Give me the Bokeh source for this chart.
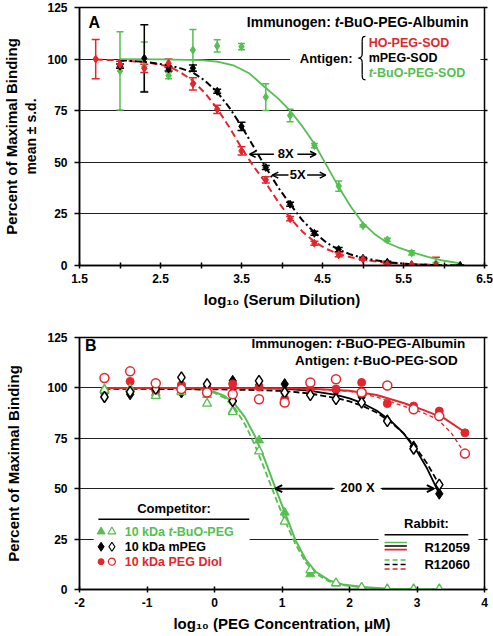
from bokeh.plotting import figure
from bokeh.models import (FixedTicker, LinearAxis, Title, Whisker, TeeHead, Arrow,
                          OpenHead, ColumnDataSource, CustomJSTickFormatter)
from bokeh.layouts import column
from bokeh.core.properties import value
from bokeh.embed import file_html
from bokeh.resources import INLINE

FONT = "Liberation Sans"
RED = "#e3262d"
GREEN = "#55bf50"
BLACK = "#000000"
GRID = "#202020"

# ---------------- Panel A data ----------------
a_x = [1.70, 2.00, 2.30, 2.60, 2.90, 3.20, 3.50, 3.80, 4.10, 4.40, 4.70, 5.00, 5.30, 5.60, 5.90, 6.20]
ho_x = a_x[:15]
ho_mean = [100.0, 97.5, 95.5, 98.0, 88.0, 75.7, 55.5, 41.5, 22.7, 10.8, 5.2, 3.0, 0.5, 0.5, 0.0]
ho_sd = [9.5, 1.5, 2.0, 2.0, 3.0, 2.0, 2.0, 1.5, 1.0, 1.0, 1.0, 0.5, 0.3, 0.3, 4.0]
mp_x = a_x[1:]
mp_mean = [96.6, 100.4, 95.2, 95.6, 84.4, 67.4, 47.5, 29.7, 15.6, 7.7, 3.5, 1.6, 0.3, 0.1, 0.0]
mp_sd = [1.0, 16.3, 1.0, 1.5, 1.0, 2.0, 1.0, 1.0, 1.0, 1.0, 0.5, 0.5, 0.3, 0.3, 0.3]
tb_x = a_x[1:]
tb_mean = [94.3, 96.3, 92.0, 104.4, 106.4, 106.0, 81.6, 72.7, 58.1, 38.5, 19.3, 12.4, 6.1, 1.0, 0.0]
tb_sd = [19.0, 12.0, 1.5, 10.0, 3.0, 1.5, 6.5, 3.0, 1.0, 2.5, 0.5, 0.8, 1.0, 0.5, 0.3]

ho_fit_x = [1.70, 2.00, 2.30, 2.60, 2.75, 2.90, 3.05, 3.20, 3.35, 3.50, 3.65, 3.80, 3.95, 4.10,
            4.25, 4.40, 4.55, 4.70, 4.85, 5.00, 5.30, 5.60, 5.90]
ho_fit_y = [99.8, 99.4, 98.6, 96.5, 93.5, 89.5, 83.5, 76.0, 67.0, 57.0, 48.0, 40.0, 31.0, 23.0,
            16.5, 11.5, 8.0, 5.5, 4.0, 2.8, 1.3, 0.6, 0.3]
mp_fit_x = [2.00, 2.30, 2.60, 2.75, 2.90, 3.05, 3.20, 3.35, 3.50, 3.65, 3.80, 3.95, 4.10, 4.25,
            4.40, 4.55, 4.70, 4.85, 5.00, 5.30, 5.60, 5.90, 6.20]
mp_fit_y = [99.5, 98.7, 97.0, 95.5, 93.5, 89.5, 84.0, 76.5, 67.5, 57.5, 47.5, 38.0, 29.7, 22.0,
            16.0, 11.0, 7.7, 5.3, 3.6, 1.6, 0.6, 0.2, 0.0]
tb_fit_x = [2.00, 2.50, 3.00, 3.20, 3.40, 3.60, 3.80, 3.95, 4.10, 4.25, 4.40, 4.55, 4.70, 4.85,
            5.00, 5.15, 5.30, 5.45, 5.60, 5.80, 6.00, 6.20]
tb_fit_y = [100.0, 99.9, 99.5, 98.8, 97.0, 93.0, 86.0, 81.0, 75.0, 67.5, 59.0, 48.5, 38.0, 28.5,
            20.5, 15.0, 11.0, 8.5, 6.5, 4.2, 2.3, 1.0]

# ---------------- Panel B data ----------------
b_x = [-1.63, -1.25, -0.87, -0.49, -0.11, 0.27, 0.66, 1.04, 1.42, 1.80, 2.18, 2.56, 2.95, 3.33, 3.71]
tbu_r1 = [99.5, 99.5, 97.5, 98.5, 96.5, 88.7, 74.0, 38.2, 7.6, 3.0, 1.0, 0.0, 0.0, 0.0]
tbu_r2 = [99.0, 99.4, 96.1, 98.0, 92.2, 88.0, 68.6, 33.7, 9.6, 3.2, 1.0, 0.2, 0.2, 0.2]
mpeg_r1 = [97.3, 96.8, 98.6, 97.7, 100.5, 103.5, 101.5, 101.9, 100.0, 98.5, 95.5, 84.0, 71.0, 47.5]
mpeg_r2 = [95.5, 98.0, 99.5, 105.2, 101.9, 93.5, 103.5, 97.7, 96.4, 94.4, 92.7, 83.5, 69.8, 52.0]
diol_r1 = [98.0, 103.2, 98.6, 101.4, 99.5, 101.9, 100.5, 94.5, 99.4, 99.4, 102.7, 92.2, 91.0, 88.5, 77.7]
diol_r2 = [104.9, 108.2, 102.3, 99.4, 97.7, 96.9, 94.4, 92.7, 102.7, 104.3, 97.7, 101.2, 89.4, 86.0, 67.4]

tbu_fit_x = [-1.63, -1.00, -0.50, -0.20, 0.00, 0.15, 0.30, 0.45, 0.60, 0.75, 0.90, 1.05, 1.20,
             1.35, 1.50, 1.70, 1.90, 2.20, 2.60, 3.00, 3.33]
tbu_fit1_y = [100.0, 100.0, 99.8, 99.2, 98.0, 96.0, 92.0, 85.5, 76.0, 64.0, 50.5, 37.5, 24.5,
              15.0, 8.8, 4.5, 2.5, 1.2, 0.3, 0.1, 0.0]
tbu_fit2_y = [100.0, 100.0, 99.7, 99.0, 97.5, 95.0, 90.0, 82.0, 71.5, 59.0, 46.0, 33.5, 22.5,
              13.5, 7.8, 4.0, 2.2, 1.0, 0.3, 0.1, 0.0]
mpeg_fit_x = [-1.63, -1.00, 0.00, 0.50, 1.00, 1.40, 1.80, 2.00, 2.20, 2.40, 2.60, 2.80, 3.00, 3.15, 3.33]
mpeg_fit1_y = [100.0, 100.0, 100.0, 99.9, 99.6, 98.7, 96.5, 94.8, 92.3, 88.8, 84.0, 77.5, 68.5, 60.0, 47.5]
mpeg_fit2_y = [99.5, 99.5, 99.3, 99.0, 98.5, 97.3, 95.0, 93.3, 91.0, 87.8, 83.3, 77.5, 69.5, 62.5, 52.0]
diol_fit1_x = [-1.63, -1.00, 0.00, 1.00, 1.50, 2.00, 2.40, 2.80, 3.10, 3.40, 3.71]
diol_fit1_y = [100.0, 100.0, 100.0, 99.8, 99.5, 98.6, 96.5, 92.5, 89.0, 85.0, 78.0]
diol_fit2_x = [-1.63, -1.00, 0.00, 1.00, 1.50, 2.00, 2.40, 2.80, 3.10, 3.30, 3.50, 3.71]
diol_fit2_y = [100.0, 100.0, 100.0, 99.7, 99.4, 98.3, 95.5, 91.0, 87.5, 84.5, 78.0, 67.5]

Y_TICKS = [0, 25, 50, 75, 100, 125]
A_XTICKS = [1.5, 2.5, 3.5, 4.5, 5.5, 6.5]
A_XMINOR = [2.0, 3.0, 4.0, 5.0, 6.0]
B_XTICKS = [-2, -1, 0, 1, 2, 3, 4]

# Arial/Liberation Sans Bold advance widths (per 1000 em)
W = {'I': 278, 'm': 889, 'u': 611, 'n': 611, 'o': 611, 'g': 611, 'e': 556, ':': 333, ' ': 278,
     't': 333, '-': 333, 'B': 722, 'O': 778, 'P': 667, 'E': 667, 'G': 778, 'A': 722, 'l': 278,
     'b': 611, 'i': 278, 'S': 667, 'D': 722, '0': 556, '1': 556, 'k': 556, 'a': 556, 'H': 722,
     'M': 833, 'd': 611, 'C': 722, 'p': 611, 'r': 389}


def tw(s, size):
    return sum(W.get(c, 556) for c in s) * size / 1000.0


def rich(p, x, y, parts, size, anchor="left"):
    total = sum(tw(t, size) for t, _, _ in parts)
    off = -total if anchor == "right" else 0.0
    for t, color, style in parts:
        p.text(x=[x], y=[y], text=[t], x_offset=off, text_font=value(FONT),
               text_font_style=style, text_font_size=f"{size}px", text_color=color,
               text_baseline="middle", text_align="left")
        off += tw(t, size)


def label(p, x, y, t, size, color=BLACK, align="left", style="bold"):
    p.text(x=[x], y=[y], text=[t], text_font=value(FONT), text_font_style=style,
           text_font_size=f"{size}px", text_color=color, text_baseline="middle",
           text_align=align)


def make_fig(x_range, height, mbt, mbb, xticks, xminor, xlabel):
    p = figure(width=493, height=height, x_range=x_range, y_range=(0, 125),
               output_backend="svg", toolbar_location=None,
               min_border_left=72, min_border_right=9, min_border_top=mbt,
               min_border_bottom=mbb)
    p.outline_line_color = "black"
    p.outline_line_width = 1.5
    p.xgrid.visible = False
    p.ygrid.ticker = FixedTicker(ticks=[25, 50, 75, 100])
    p.ygrid.grid_line_color = GRID
    p.ygrid.grid_line_width = 1.2
    p.xaxis.ticker = FixedTicker(ticks=xticks, minor_ticks=xminor)
    p.xaxis.formatter = CustomJSTickFormatter(code="return String(tick)")
    p.yaxis.ticker = FixedTicker(ticks=Y_TICKS)
    for ax in (p.xaxis[0], p.yaxis[0]):
        ax.axis_line_width = 1.5
        ax.axis_line_color = "black"
        ax.major_tick_line_color = "black"
        ax.major_tick_line_width = 1.5
        ax.major_label_text_font = FONT
        ax.major_label_text_font_style = "bold"
        ax.major_label_text_font_size = "12px"
        ax.major_label_text_color = "black"
        ax.axis_label_text_font = FONT
        ax.axis_label_text_font_style = "bold"
        ax.axis_label_text_color = "black"
    xa = p.xaxis[0]
    xa.major_tick_in = 3
    xa.major_tick_out = 3
    xa.minor_tick_in = 3
    xa.minor_tick_out = 3
    xa.minor_tick_line_width = 1.5
    xa.minor_tick_line_color = "black"
    xa.major_label_standoff = 5
    xa.axis_label = xlabel
    xa.axis_label_text_font_size = "15px"
    xa.axis_label_standoff = 5
    ya = p.yaxis[0]
    ya.major_tick_in = 0
    ya.major_tick_out = 5
    ya.major_label_standoff = 7
    ya.axis_label_text_font_size = "14px"
    ra = LinearAxis(ticker=FixedTicker(ticks=Y_TICKS),
                    formatter=CustomJSTickFormatter(code="return ''"),
                    major_tick_in=0, major_tick_out=3, major_tick_line_width=1.5,
                    axis_line_color=None, major_label_standoff=0,
                    minor_tick_line_color=None)
    p.add_layout(ra, "right")
    return p


# ================= Panel A =================
pA = make_fig((1.5, 6.5), 320, 7, 55, A_XTICKS, A_XMINOR, "log\u2081\u2080 (Serum Dilution)")
pA.yaxis[0].axis_label = "mean \u00b1 s.d."
pA.yaxis[0].axis_label_standoff = 5
pA.add_layout(Title(text="Percent of Maximal Binding", align="center", text_font=FONT,
                    text_font_size="15px", text_font_style="bold", text_color=BLACK,
                    standoff=1), "left")

# white box behind the antigen legend
pA.quad(left=[4.10], right=[6.45], bottom=[89], top=[112], fill_color="white", line_color=None)

pA.line(ho_fit_x, ho_fit_y, line_color=RED, line_width=2, line_dash="7 4")
pA.line(mp_fit_x, mp_fit_y, line_color=BLACK, line_width=2, line_dash="7 3 2 3")
pA.line(tb_fit_x, tb_fit_y, line_color=GREEN, line_width=1.8)

for xs, m, sd, col, cap in ((tb_x, tb_mean, tb_sd, GREEN, 7), (mp_x, mp_mean, mp_sd, BLACK, 8),
                            (ho_x, ho_mean, ho_sd, RED, 8)):
    src = ColumnDataSource(dict(base=xs, upper=[a + b for a, b in zip(m, sd)],
                                lower=[a - b for a, b in zip(m, sd)]))
    pA.add_layout(Whisker(source=src, base="base", upper="upper", lower="lower",
                          line_color=col, line_width=1.5,
                          upper_head=TeeHead(size=cap, line_color=col, line_width=1.5),
                          lower_head=TeeHead(size=cap, line_color=col, line_width=1.5)))
    pA.scatter(xs, m, marker="diamond", size=8, fill_color=col, line_color=col)

label(pA, 1.61, 117.5, "A", 16)
rich(pA, 6.35, 117.8, [("Immunogen: ", BLACK, "bold"), ("t", BLACK, "bold italic"),
                       (" -BuO-PEG-Albumin", BLACK, "bold")], 14, anchor="right")
label(pA, 4.87, 100.3, "Antigen:", 13, align="right")
# brace
bx_r, bx_s, bx_l = 5.03, 4.99, 4.945
pA.bezier(x0=[bx_r, bx_s, bx_l, bx_s], y0=[111, 102.5, 100.5, 92.5],
          x1=[bx_s, bx_l, bx_s, bx_r], y1=[108.5, 100.5, 98.5, 90],
          cx0=[4.995, bx_s, 4.962, bx_s], cy0=[111, 101, 100.5, 90.5],
          cx1=[bx_s, 4.962, bx_s, 4.995], cy1=[110.5, 100.5, 100, 90],
          line_color=BLACK, line_width=1.3)
pA.segment(x0=[bx_s, bx_s], y0=[108.5, 98.5], x1=[bx_s, bx_s], y1=[102.5, 92.5],
           line_color=BLACK, line_width=1.3)
label(pA, 5.07, 107.7, "HO-PEG-SOD", 12.5, color=RED)
label(pA, 5.07, 100.3, "mPEG-SOD", 12.5)
rich(pA, 5.07, 93.3, [("t", GREEN, "bold italic"), (" -BuO-PEG-SOD", GREEN, "bold")], 12.5)

# fold-difference arrows
for xs, xe, yy in ((3.90, 3.60, 53.9), (4.19, 4.42, 53.9), (4.08, 3.88, 43.8), (4.31, 4.54, 43.8)):
    pA.add_layout(Arrow(x_start=xs, y_start=yy, x_end=xe, y_end=yy, line_width=1.5,
                        end=OpenHead(size=6, line_width=1.5)))
label(pA, 4.045, 54.5, "8X", 13, align="center")
label(pA, 4.195, 44.3, "5X", 13, align="center")

# ================= Panel B =================
pB = make_fig((-2, 4), 316, 17, 47, B_XTICKS, [], "log\u2081\u2080 (PEG Concentration, \u03bcM)")
pB.yaxis[0].axis_label = "Percent of Maximal Binding"
pB.yaxis[0].axis_label_text_font_size = "15px"
pB.yaxis[0].axis_label_standoff = 22

# white boxes
pB.quad(left=[-1.79, 2.43, 1.78], right=[0.52, 3.91, 2.46], bottom=[9, 6, 46], top=[46, 38, 54],
        fill_color="white", line_color=None)

pB.line(tbu_fit_x, tbu_fit1_y, line_color=GREEN, line_width=2)
pB.line(tbu_fit_x, tbu_fit2_y, line_color=GREEN, line_width=1.8, line_dash="6 3")
pB.line(mpeg_fit_x, mpeg_fit1_y, line_color=BLACK, line_width=1.8)
pB.line(mpeg_fit_x, mpeg_fit2_y, line_color=BLACK, line_width=1.8, line_dash="6 3")
pB.line(diol_fit1_x, diol_fit1_y, line_color=RED, line_width=2)
pB.line(diol_fit2_x, diol_fit2_y, line_color=RED, line_width=1.3, line_dash="4 3")

pB.scatter(b_x[:14], tbu_r1, marker="triangle", size=9, fill_color=GREEN, line_color=GREEN)
pB.scatter(b_x[:14], mpeg_r1, marker="diamond", size=11, fill_color=BLACK, line_color=BLACK)
pB.scatter(b_x, diol_r1, marker="circle", size=8, fill_color=RED, line_color=RED)
pB.scatter(b_x[:14], tbu_r2, marker="triangle", size=9, fill_color="white", line_color=GREEN,
           line_width=1.3)
pB.scatter(b_x[:14], mpeg_r2, marker="diamond", size=11, fill_color="white", line_color=BLACK,
           line_width=1.5)
pB.scatter(b_x, diol_r2, marker="circle", size=9, fill_color="white", line_color=RED,
           line_width=1.5)

label(pB, -1.92, 121.0, "B", 16)
rich(pB, 3.77, 122.0, [("Immunogen: ", BLACK, "bold"), ("t", BLACK, "bold italic"),
                       (" -BuO-PEG-Albumin", BLACK, "bold")], 13.5, anchor="right")
rich(pB, 3.66, 113.8, [("Antigen: ", BLACK, "bold"), ("t", BLACK, "bold italic"),
                       (" -BuO-PEG-SOD", BLACK, "bold")], 13.5, anchor="right")

# 200X arrows
pB.add_layout(Arrow(x_start=1.75, y_start=50, x_end=0.90, y_end=50, line_width=2,
                    end=OpenHead(size=7, line_width=2)))
pB.add_layout(Arrow(x_start=2.48, y_start=50, x_end=3.25, y_end=50, line_width=2,
                    end=OpenHead(size=7, line_width=2)))
label(pB, 2.12, 50.5, "200 X", 13, align="center")

# Competitor legend
label(pB, -0.60, 40.4, "Competitor:", 13, align="center")
pB.segment(x0=[-1.72], y0=[34.9], x1=[0.515], y1=[34.9], line_color=BLACK, line_width=1.5)
pB.scatter([-1.68], [28.7], marker="triangle", size=8, fill_color=GREEN, line_color=GREEN)
pB.scatter([-1.52], [28.7], marker="triangle", size=8, fill_color="white", line_color=GREEN,
           line_width=1.2)
pB.scatter([-1.68], [21.2], marker="diamond", size=9, fill_color=BLACK, line_color=BLACK)
pB.scatter([-1.52], [21.2], marker="diamond", size=9, fill_color="white", line_color=BLACK,
           line_width=1.2)
pB.scatter([-1.68], [13.8], marker="circle", size=6, fill_color=RED, line_color=RED)
pB.scatter([-1.52], [13.8], marker="circle", size=7, fill_color="white", line_color=RED,
           line_width=1.3)
rich(pB, -1.33, 28.7, [("10 kDa ", GREEN, "bold"), ("t", GREEN, "bold italic"),
                       (" -BuO-PEG", GREEN, "bold")], 12.5)
label(pB, -1.33, 21.2, "10 kDa mPEG", 12.5)
label(pB, -1.33, 13.8, "10 kDa PEG Diol", 12.5, color=RED)

# Rabbit legend
label(pB, 3.14, 32.9, "Rabbit:", 13, align="center")
pB.segment(x0=[2.52], y0=[27.1], x1=[3.76], y1=[27.1], line_color=BLACK, line_width=1.5)
pB.segment(x0=[2.52] * 3, y0=[23.3, 21.6, 19.8], x1=[2.85] * 3, y1=[23.3, 21.6, 19.8],
           line_color=[GREEN, BLACK, RED], line_width=1.6)
pB.segment(x0=[2.52] * 3, y0=[14.6, 12.4, 10.2], x1=[2.85] * 3, y1=[14.6, 12.4, 10.2],
           line_color=[GREEN, BLACK, RED], line_width=1.6, line_dash="5 3")
label(pB, 3.11, 20.9, "R12059", 13)
label(pB, 3.11, 12.2, "R12060", 13)

layout = column(pA, pB)
open("out.html", "w").write(file_html(layout, INLINE))
